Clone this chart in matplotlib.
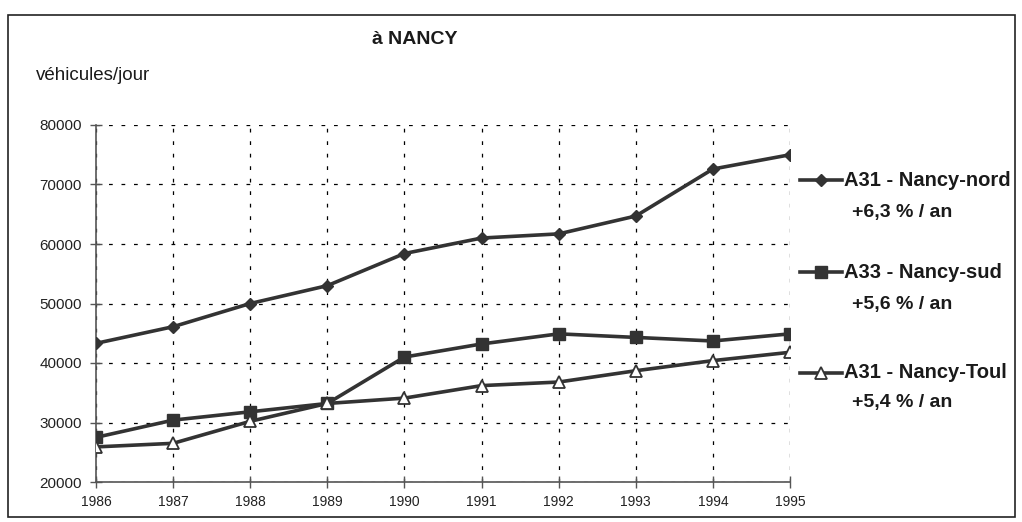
import matplotlib
matplotlib.use("Agg")
import matplotlib.pyplot as plt
from matplotlib.lines import Line2D
from matplotlib.patches import Rectangle

plt.rcParams['font.family'] = ['Liberation Sans', 'DejaVu Sans']

years = [1986, 1987, 1988, 1989, 1990, 1991, 1992, 1993, 1994, 1995]
nord = [43300, 46100, 50000, 53000, 58400, 61000, 61700, 64700, 72600, 75000]
sud = [27500, 30400, 31800, 33200, 41000, 43200, 44900, 44300, 43700, 44900]
toul = [25900, 26500, 30200, 33200, 34100, 36200, 36800, 38700, 40400, 41800]
labels = ["A31 - Nancy-nord", "A33 - Nancy-sud", "A31 - Nancy-Toul"]
rates = ["+6,3 % / an", "+5,6 % / an", "+5,4 % / an"]

W, H = 1022, 522
fig = plt.figure(figsize=(W/100, H/100), dpi=100)
ax = fig.add_axes([96/W, 1-482/H, (790-96)/W, (482-125)/H])

col = '#333333'
styles = [dict(marker='D', ms=6, mfc=col, mec=col),
          dict(marker='s', ms=8, mfc=col, mec=col),
          dict(marker='^', ms=8, mfc='white', mec=col, mew=1.3)]
for data, st in zip([nord, sud, toul], styles):
    ax.plot(years, data, color=col, lw=2.6, **st, zorder=3)

ax.set_xlim(1986, 1995)
ax.set_ylim(20000, 80000)
ax.set_xticks(years)
ax.set_yticks(range(20000, 80001, 10000))
ax.grid(True, color='black', linestyle=(0, (3, 7)), lw=0.9)
for s in ['top', 'right']:
    ax.spines[s].set_visible(False)
for s in ['left', 'bottom']:
    ax.spines[s].set_color('#555555')
    ax.spines[s].set_linewidth(1.2)
ax.tick_params(direction='inout', length=8, width=1, colors='#555555', labelcolor='#222222')
ax.tick_params(axis='x', labelsize=10, pad=5)
ax.tick_params(axis='y', labelsize=11, pad=6)

fig.text(415/W, 1-40/H, "à NANCY", ha='center', va='center', fontsize=14, fontweight='bold', color='#1a1a1a')
fig.text(36/W, 1-75/H, "véhicules/jour", ha='left', va='center', fontsize=13.5, color='#1a1a1a')

leg_y = [180, 272, 373]
rate_y = [213, 305, 403]
for y, ry, lab, rt, st in zip(leg_y, rate_y, labels, rates, styles):
    fig.add_artist(Line2D([800/W, 842/W], [1-y/H, 1-y/H], color=col, lw=2.6,
                          transform=fig.transFigure))
    fig.add_artist(Line2D([821/W], [1-y/H], color=col, lw=0,
                          transform=fig.transFigure, **st))
    fig.text(844/W, 1-y/H, lab, ha='left', va='center', fontsize=14.5, fontweight='bold', color='#1a1a1a')
    fig.text(852/W, 1-ry/H, rt, ha='left', va='center', fontsize=14, fontweight='bold', color='#1a1a1a')

fig.add_artist(Rectangle((8/W, 1-517/H), (1015-8)/W, (517-15)/H, transform=fig.transFigure,
                         fill=False, ec='#222222', lw=1.2))

fig.savefig("out.png", dpi=100)
